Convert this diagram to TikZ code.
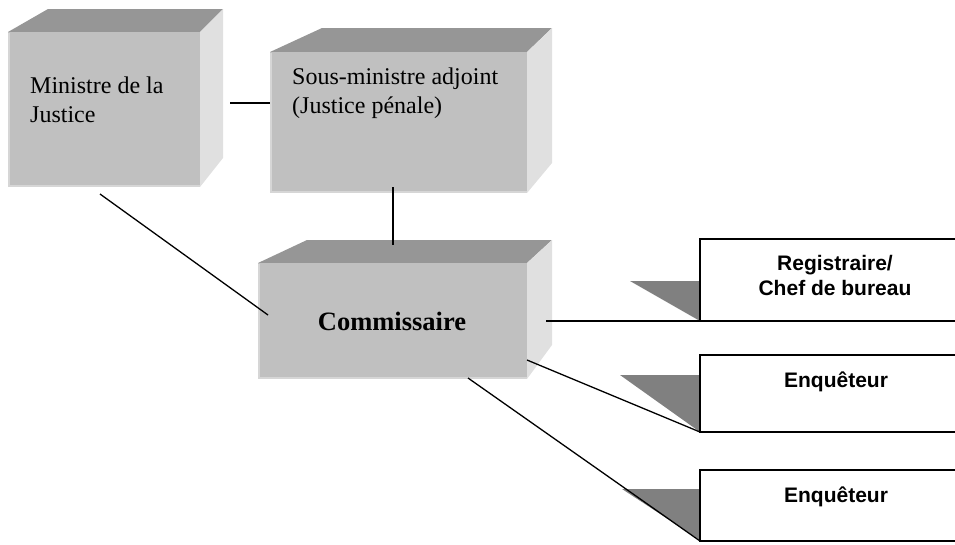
\documentclass[tikz,border=0pt]{standalone}
\usepackage{fontspec}
\setmainfont{Liberation Serif}
\newfontfamily\arialfont{Liberation Sans}
\definecolor{frontc}{RGB}{192,192,192}
\definecolor{topc}{RGB}{150,150,150}
\definecolor{sidec}{RGB}{224,224,224}
\definecolor{bevelc}{RGB}{214,214,214}
\definecolor{tric}{RGB}{128,128,128}
\begin{document}
\begin{tikzpicture}[x=1pt,y=-1pt,
  frontface/.style={fill=frontc,draw=none,inner sep=0pt,anchor=north west},
  topface/.style={fill=topc},
  sideface/.style={fill=sidec},
  bevel/.style={draw=bevelc,line width=1.5pt},
  conn/.style={draw=black,line width=1.3pt},
  boxline/.style={draw=black,line width=1.4pt},
  tri/.style={fill=tric},
  serif/.style={font=\fontsize{24}{28.5}\selectfont,align=left,anchor=base west,inner sep=0pt},
  sanslabel/.style={font=\arialfont\bfseries\fontsize{21}{25}\selectfont,align=center,anchor=base,inner sep=0pt}]
\useasboundingbox (0,0) rectangle (955,544);

% Box 1: Ministre
\fill[topface] (8,32) -- (48,9) -- (223,9) -- (200,32) -- cycle;
\fill[sideface] (200,32) -- (223,9) -- (223,158) -- (200,187) -- cycle;
\node[frontface,minimum width=192pt,minimum height=155pt] (m) at (8,32) {};
\draw[bevel] (9,33) -- (9,186) -- (200,186);
\node[serif] (mt) at (30,122) {Ministre de la\\Justice};

% Box 2: Sous-ministre
\fill[topface] (270,52) -- (322,28) -- (552,28) -- (527,52) -- cycle;
\fill[sideface] (527,52) -- (552,28) -- (552,163) -- (527,193) -- cycle;
\node[frontface,minimum width=257pt,minimum height=141pt] (s) at (270,52) {};
\draw[bevel] (271,53) -- (271,192) -- (527,192);
\node[serif] (st) at (292,113) {Sous-ministre adjoint\\(Justice pénale)};

% Box 3: Commissaire
\fill[topface] (258,263) -- (307,240) -- (552,240) -- (527,263) -- cycle;
\fill[sideface] (527,263) -- (552,240) -- (552,345) -- (527,379) -- cycle;
\node[frontface,minimum width=269pt,minimum height=116pt] (c) at (258,263) {};
\draw[bevel] (259,264) -- (259,378) -- (527,378);
\node[font=\bfseries\fontsize{26.5}{30}\selectfont,anchor=base,inner sep=0pt] (ct) at (392,330) {Commissaire};

% Right-hand boxes
\fill[tri] (630,281) -- (700,281) -- (700,321) -- cycle;
\fill[tri] (620,375) -- (700,375) -- (700,432) -- cycle;
\fill[tri] (622,489) -- (700,489) -- (700,540) -- cycle;

\coordinate (r) at (700,321);
\coordinate (e1) at (700,432);
\coordinate (e2) at (700,541);
\draw[boxline] (962,239) -- (700,239) -- (r) -- (962,321);
\draw[boxline] (962,355) -- (700,355) -- (e1) -- (962,432);
\draw[boxline] (962,470) -- (700,470) -- (e2) -- (962,541);
\node[sanslabel] (rt) at (835,295) {Registraire/\\Chef de bureau};
\node[sanslabel] (e1t) at (836,387) {Enquêteur};
\node[sanslabel] (e2t) at (836,502) {Enquêteur};

% Connectors
\coordinate (m1) at (230,103);
\coordinate (s1) at (270,103);
\coordinate (s2) at (393,187);
\coordinate (c1) at (393,245);
\coordinate (m2) at (100,194);
\coordinate (c2) at (268,315);
\coordinate (c3) at (546,321);
\coordinate (c4) at (527,360);
\coordinate (c5) at (468,378);
\draw[conn] (m1) -- (s1);
\draw[conn] (s2) -- (c1);
\draw[conn] (m2) -- (c2);
\draw[conn] (c3) -- (r);
\draw[conn] (c4) -- (e1);
\draw[conn] (c5) -- (e2);
\end{tikzpicture}
\end{document}
